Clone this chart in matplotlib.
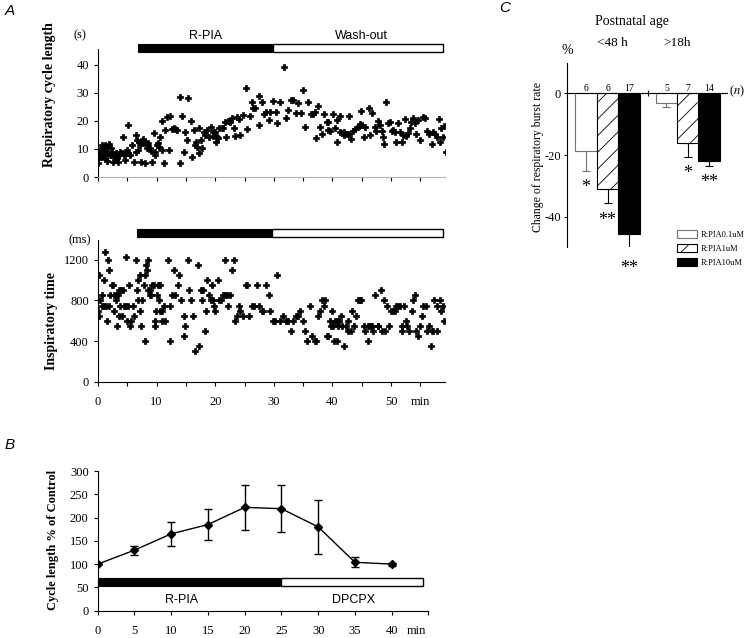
import matplotlib
matplotlib.use('Agg')
import matplotlib.pyplot as plt
from matplotlib.patches import Rectangle

plt.rcParams['font.family'] = 'serif'
plt.rcParams['font.serif'] = ['Liberation Serif', 'DejaVu Serif']
plt.rcParams['font.size'] = 9
plt.rcParams['axes.linewidth'] = 0.8
plt.rcParams['axes.unicode_minus'] = False
plt.rcParams['hatch.linewidth'] = 0.6
plt.rcParams['mathtext.fontset'] = 'stix'
SANS = 'Liberation Sans'

# ---- panel A, respiratory cycle length (s) ----
t_cycle = [0.0, 0.05, 0.2, 0.4, 0.7, 1.0, 1.25, 1.5, 1.8, 0.6,
           1.0, 1.25, 1.7, 2.1, 2.4, 2.5, 2.7, 3.0, 3.2, 3.4,
           3.5, 3.8, 4.1, 4.2, 4.4, 4.7, 4.9, 5.1, 5.2, 5.5,
           5.8, 6.1, 6.4, 6.7, 6.9, 7.2, 7.4, 7.5, 7.8, 8.0,
           8.1, 8.4, 8.6, 8.9, 9.2, 9.5, 9.8, 10.1, 10.4, 10.6,
           10.9, 11.0, 11.2, 11.5, 11.8, 12.2, 12.1, 12.6, 12.9, 13.2,
           13.5, 14.0, 14.0, 14.4, 14.6, 14.9, 15.2, 15.4, 15.8, 16.0,
           16.3, 16.6, 16.7, 16.9, 17.2, 17.3, 17.6, 17.7, 18.0, 18.3,
           18.6, 18.9, 7.0, 7.7, 8.3, 9.0, 9.7, 10.3, 6.5, 3.0,
           1.5, 2.2, 4.6, 0.3, 1.0,
           19.3, 19.6, 19.7, 20.0, 20.1, 20.3, 20.5, 20.7, 21.1, 21.3,
           21.7, 21.9, 22.1, 22.4, 22.6, 22.9, 23.2, 23.4, 23.7, 24.0,
           24.3, 24.7, 25.3, 25.5, 26.0, 26.2, 26.5, 26.8, 27.4, 27.5,
           27.9, 28.3, 28.7, 29.1, 29.4, 29.9, 30.4, 30.6, 31.1, 31.7,
           32.1, 32.5, 32.9, 33.3, 33.8, 34.2, 34.6, 35.0, 35.3, 35.8,
           36.3, 36.6, 37.0, 37.2, 37.6, 37.9, 38.2, 38.6, 39.0, 39.3,
           39.25, 39.5, 40.1, 40.4, 40.8, 40.8, 41.3, 41.3, 41.6, 41.9,
           42.0, 42.4, 42.8, 42.9, 43.2, 43.5, 43.9, 44.3, 44.5, 44.7,
           44.9, 45.1, 45.4, 45.6, 46.2, 46.4, 46.8, 47.2, 47.5, 47.7,
           48.1, 48.4, 48.7, 48.8, 49.2, 49.5, 49.8, 50.1, 50.4, 50.6,
           50.9, 51.2, 51.5, 51.8, 52.0, 52.3, 52.6, 52.9, 53.2, 53.4,
           53.7, 54.0, 54.3, 54.6, 55.0, 55.4, 55.8, 56.2, 56.5, 56.9,
           57.2, 57.5, 57.8, 58.2, 58.4, 58.5, 58.9, 59.1, 59.3]
cycle_len = [4.9, 6.7, 8.5, 9.6, 11.4, 10.8, 11.4, 10.8, 11.7, 7.3,
             7.9, 6.7, 8.5, 7.9, 9.0, 5.5, 7.3, 8.5, 6.7, 5.5,
             7.9, 9.0, 8.5, 14.4, 7.9, 9.0, 9.6, 18.6, 8.5, 7.9,
             11.4, 5.5, 15.0, 13.2, 9.6, 11.4, 5.5, 12.0, 12.6, 5.1,
             12.4, 11.4, 12.0, 10.2, 5.2, 15.6, 9.0, 11.4, 10.8, 14.4,
             9.6, 20.0, 4.9, 16.8, 21.5, 21.9, 9.6, 17.1, 17.4, 17.1,
             16.8, 28.7, 4.9, 21.8, 9.0, 16.0, 13.2, 28.1, 20.0, 7.3,
             16.8, 11.4, 12.4, 10.8, 8.5, 17.6, 13.2, 10.5, 16.0, 15.0,
             16.8, 14.4, 12.5, 13.5, 10.5, 9.2, 8.0, 12.2, 8.8, 6.2,
             5.8, 10.2, 6.0, 7.0, 9.3,
             18.0, 16.2, 14.6, 16.0, 12.4, 14.4, 13.8, 17.6, 17.6, 17.6,
             19.5, 14.4, 20.0, 20.0, 19.8, 21.0, 17.6, 14.8, 21.5, 20.7,
             15.0, 22.1, 31.7, 17.1, 21.9, 26.7, 24.5, 24.5, 29.0, 18.6,
             26.7, 22.4, 23.1, 20.4, 23.1, 27.1, 23.1, 19.2, 26.7, 39.3,
             21.0, 23.9, 27.5, 27.5, 23.0, 26.3, 23.0, 31.1, 18.0, 26.7,
             22.4, 22.4, 23.1, 14.0, 25.5, 18.0, 15.5, 22.4, 19.8, 16.8,
             19.8, 16.4, 22.4, 17.6, 12.4, 20.4, 21.9, 16.2, 15.6, 15.0,
             16.0, 15.2, 15.2, 21.9, 13.5, 16.4, 17.1, 18.0, 18.3, 18.8,
             23.6, 18.6, 14.4, 18.0, 24.5, 15.0, 22.7, 18.0, 16.4, 20.0,
             18.6, 16.4, 14.4, 11.7, 26.9, 19.2, 19.5, 16.4, 16.8, 16.0,
             12.6, 19.2, 16.0, 12.6, 15.0, 20.7, 14.8, 15.6, 17.6, 19.8,
             21.2, 19.2, 15.2, 20.4, 13.2, 21.5, 21.2, 16.4, 15.2, 11.7,
             16.0, 15.2, 14.4, 20.7, 12.4, 17.6, 14.4, 18.3, 8.8]

# ---- panel A, inspiratory time (ms) ----
t_insp = [0.0, 0.1, 0.1, 0.4, 0.6, 0.7, 1.0, 1.1, 1.25, 1.4,
          1.5, 1.7, 1.8, 1.9, 2.1, 2.4, 2.5, 2.7, 2.8, 3.0,
          3.1, 3.2, 3.4, 3.5, 3.6, 3.8, 4.0, 4.1, 4.2, 4.4,
          4.7, 4.8, 4.9, 5.1, 5.3, 5.5, 5.7, 5.9, 6.1, 6.4,
          6.7, 6.8, 6.9, 7.1, 7.2, 7.4, 7.5, 7.8, 8.0, 8.1,
          8.2, 8.4, 8.5, 8.6, 8.8, 8.9, 9.1, 9.2, 9.5, 9.7,
          9.8, 9.9, 10.1, 10.2, 10.4, 10.6, 10.6, 10.9, 11.0, 11.4,
          11.2, 12.0, 12.2, 12.3, 12.6, 12.9, 13.2, 13.6, 13.9, 14.2,
          14.6, 14.6, 14.9, 15.4, 15.6, 15.9, 16.2, 16.6, 17.1, 17.3,
          17.5, 17.7, 17.9, 18.3, 18.4, 18.6, 18.9, 19.2,
          19.4, 19.6, 19.8, 20.0, 20.4, 20.7, 20.9, 21.3, 21.6, 21.7,
          22.0, 22.2, 22.5, 22.8, 23.2, 23.4, 23.7, 24.0, 24.2, 24.7,
          25.2, 25.5, 25.8, 26.2, 26.6, 27.2, 27.5, 27.9, 28.2, 28.7,
          29.1, 29.4, 29.9, 30.2, 30.6, 31.0, 31.6, 32.1, 32.5, 32.9,
          33.3, 33.8, 34.2, 34.5, 35.0, 35.3, 35.7, 36.2, 36.5, 37.0,
          37.2, 37.6, 37.9, 38.2, 38.5, 38.8, 39.0,
          39.25, 39.5, 39.7, 40.0, 40.1, 40.3, 40.4, 40.7, 40.8, 40.9,
          41.2, 41.4, 41.6, 41.9, 42.3, 42.6, 42.7, 43.1, 43.3, 43.7,
          44.1, 44.4, 44.7, 44.9, 45.4, 45.6, 46.0, 46.1, 46.4, 46.7,
          46.9, 47.3, 47.7, 47.8, 48.2, 48.5, 48.8, 49.0, 49.3, 49.6,
          50.0, 50.3, 50.6, 50.8, 51.2, 51.5, 51.8, 51.9, 52.2, 52.5,
          52.8, 53.0, 53.5, 53.8, 54.0, 54.2, 54.6, 54.9, 55.3, 55.5,
          55.9, 56.2, 56.5, 56.8, 56.9, 57.2, 57.4, 57.8, 57.9, 58.3,
          58.6, 58.9, 59.0]
insp_time = [700, 650, 1050, 800, 850, 750, 1000, 750, 1280, 750,
             600, 1200, 1100, 750, 850, 950, 950, 850, 700, 800,
             850, 550, 850, 650, 900, 750, 900, 650, 900, 750,
             750, 1230, 600, 750, 950, 550, 600, 750, 650, 1200,
             900, 800, 1000, 700, 1050, 550, 800, 950, 1050, 400,
             1150, 1100, 1200, 900, 850, 900, 850, 950, 950, 550,
             600, 700, 850, 950, 800, 950, 700, 700, 600, 600,
             750, 1200, 750, 400, 850, 1100, 850, 950, 1050, 800,
             650, 450, 550, 1200, 900, 800, 650, 300, 1150, 350,
             900, 800, 900, 500, 700, 1000, 850, 800,
             950, 800, 750, 700, 1000, 800, 800, 850, 1200, 850,
             850, 750, 850, 1100, 1200, 600, 650, 750, 700, 650,
             950, 950, 650, 750, 750, 950, 750, 700, 700, 950,
             850, 700, 600, 600, 1050, 600, 650, 600, 600, 500,
             600, 650, 650, 700, 600, 500, 400, 750, 450, 400,
             400, 650, 700, 800, 750, 800, 450,
             450, 600, 550, 700, 550, 400, 600, 600, 400, 550,
             600, 650, 550, 350, 550, 500, 600, 500, 700, 550,
             650, 800, 800, 800, 550, 500, 550, 400, 550, 550,
             500, 850, 550, 550, 900, 500, 800, 500, 750, 550,
             700, 700, 700, 750, 750, 750, 550, 500, 750, 600,
             550, 500, 700, 800, 850, 500, 450, 550, 650, 750,
             750, 500, 550, 350, 500, 500, 800, 750, 500, 800,
             700, 750, 600]

# ---- panel B ----
b_time = [0, 5, 10, 15, 20, 25, 30, 35, 40]
b_cycle = [100, 130, 165, 185, 222, 219, 180, 104, 100]
b_err = [0, 10, 25, 33, 48, 50, 58, 11, 3]

# ---- panel C ----
c_labels = ['R:PIA0.1uM', 'R:PIA1uM', 'R:PIA10uM']
c_young = [-18.7, -31.1, -45.7]
c_young_err = [6.5, 4.6, 5.6]
c_old = [-3.0, -16.0, -21.8]
c_old_err = [1.5, 4.5, 1.7]
c_young_n = ['6', '6', '17']
c_old_n = ['5', '7', '14']
c_young_sig = ['*', '**', '**']
c_old_sig = ['', '*', '**']

W, H = 750, 638
fig = plt.figure(figsize=(W / 100, H / 100), dpi=100)


def px_axes(left, top, right, bottom):
    return fig.add_axes([left / W, 1 - bottom / H, (right - left) / W, (bottom - top) / H])


def style(ax):
    ax.spines['top'].set_visible(False)
    ax.spines['right'].set_visible(False)
    ax.tick_params(length=3, width=0.8, labelsize=9)


def drug_bar(ax, y0, h, x0, x1, x2):
    ax.add_patch(Rectangle((x0, y0), x1 - x0, h, fc='black', ec='black', lw=0.8, clip_on=False))
    ax.add_patch(Rectangle((x1, y0), x2 - x1, h, fc='white', ec='black', lw=1.0, clip_on=False))


# A top
ax1 = px_axes(98, 49, 445, 177)
style(ax1)
ax1.plot(t_cycle, cycle_len, 'P', color='black', ms=4.6, mew=0.5)
ax1.set_xlim(0, 59.2)
ax1.set_ylim(0, 45.7)
ax1.set_yticks([0, 10, 20, 30, 40])
ax1.set_xticks(range(0, 60, 5))
ax1.tick_params(axis='x', labelbottom=False)
ax1.spines['bottom'].set_color('0.7')
drug_bar(ax1, 44.6, 2.8, 6.8, 29.9, 58.9)
ax1.text(18.3, 50.4, 'R-PIA', family=SANS, fontsize=9, ha='center', va='center', clip_on=False)
ax1.text(45.0, 50.4, 'Wash-out', family=SANS, fontsize=9, ha='center', va='center', clip_on=False)

# A bottom
ax2 = px_axes(98, 240, 445, 381.7)
style(ax2)
ax2.plot(t_insp, insp_time, 'P', color='black', ms=4.6, mew=0.5)
ax2.set_xlim(0, 59.2)
ax2.set_ylim(0, 1396)
ax2.set_yticks([0, 400, 800, 1200])
ax2.set_xticks(range(0, 60, 5))
ax2.set_xticklabels(['0', '', '10', '', '20', '', '30', '', '40', '', '50', 'min'])
ax2.tick_params(axis='x', pad=7)
drug_bar(ax2, 1425, 80, 6.6, 29.7, 58.9)

fig.text(80 / W, 1 - 35 / H, '(s)', fontsize=9, ha='center', va='center')
fig.text(80 / W, 1 - 240 / H, '(ms)', fontsize=9, ha='center', va='center')
fig.text(50 / W, 1 - 95 / H, 'Respiratory cycle length', fontsize=10, fontweight='bold',
         rotation=90, ha='center', va='center')
fig.text(51 / W, 1 - 321 / H, 'Inspiratory time', fontsize=10, fontweight='bold',
         rotation=90, ha='center', va='center')

# B
ax3 = px_axes(97.7, 471, 427.7, 610.7)
style(ax3)
ax3.errorbar(b_time, b_cycle, yerr=b_err, color='black', lw=1.0, marker='D', ms=4,
             capsize=3, elinewidth=1.0, capthick=1.0)
ax3.set_xlim(0, 44.9)
ax3.set_ylim(0, 300)
ax3.set_yticks(range(0, 301, 50))
ax3.set_xticks(list(range(0, 41, 5)) + [44.9])
ax3.set_xticklabels([str(v) for v in range(0, 41, 5)] + [''])
ax3.tick_params(axis='x', pad=7)
ax3.text(43.3, -0.145, 'min', transform=ax3.get_xaxis_transform(), fontsize=9,
         ha='center', va='center')
drug_bar(ax3, 54, 17, 0, 25, 44.3)
ax3.text(11.4, 23, 'R-PIA', family=SANS, fontsize=9, ha='center', va='center')
ax3.text(34.8, 23, 'DPCPX', family=SANS, fontsize=9, ha='center', va='center')
fig.text(53 / W, 1 - 540 / H, 'Cycle length % of Control', fontsize=9, fontweight='bold',
         rotation=90, ha='center', va='center')

# C
ax4 = px_axes(566.7, 62.7, 726.7, 247.3)
ax4.spines['top'].set_visible(False)
ax4.spines['right'].set_visible(False)
ax4.spines['bottom'].set_position(('data', 0))
ax4.set_xlim(0, 7.44)
ax4.set_ylim(-50, 10)
ax4.set_yticks([0, -20, -40])
ax4.set_xticks([3.77])
ax4.set_xticklabels([''])
ax4.tick_params(axis='y', length=2.5, width=0.8, labelsize=9, pad=1.5)
ax4.tick_params(axis='x', direction='inout', length=4, width=0.8)

x_young = [0.89, 1.9, 2.89]
x_old = [4.64, 5.63, 6.61]
faces = ['white', 'white', 'black']
hatches = [None, '//', None]
edges = ['0.45', 'black', 'black']
for i in range(3):
    xs = [x_young[i], x_old[i]]
    ys = [c_young[i], c_old[i]]
    es = [c_young_err[i], c_old_err[i]]
    ax4.bar(xs, ys, width=1.0, color=faces[i], hatch=hatches[i], edgecolor=edges[i],
            lw=0.8, label=c_labels[i], zorder=2)
    ax4.errorbar(xs, ys, yerr=[es, [0, 0]], fmt='none', ecolor=edges[i] if i == 0 else 'black',
                 elinewidth=0.8, capsize=3, capthick=0.8, zorder=1)
    for x, n in zip(xs, [c_young_n[i], c_old_n[i]]):
        ax4.text(x, 1.7, n, fontsize=7, ha='center', va='center')
    for x, y, e, s in zip(xs, ys, es, [c_young_sig[i], c_old_sig[i]]):
        if s:
            ax4.text(x, y - e - 5.5, s, fontsize=13, ha='center', va='center', clip_on=False)
ax4.text(7.93, 0.8, '($n$)', fontsize=9, ha='center', va='center', clip_on=False)
ax4.legend(loc='upper left', bbox_to_anchor=(672.7 / W, 1 - 226 / H),
           bbox_transform=fig.transFigure, frameon=False, fontsize=6, borderpad=0,
           handlelength=2.4, handleheight=1.0, labelspacing=0.65, handletextpad=0.5)

fig.text(538 / W, 1 - 157 / H, 'Change of respiratory burst rate', fontsize=8.5,
         rotation=90, ha='center', va='center')
fig.text(567 / W, 1 - 50 / H, '%', fontsize=10, ha='center', va='center')
fig.text(631.7 / W, 1 - 21.7 / H, 'Postnatal age', fontsize=10, ha='center', va='center')
fig.text(612.7 / W, 1 - 43.3 / H, '<48 h', fontsize=9.5, ha='center', va='center')
fig.text(676.7 / W, 1 - 43.3 / H, '>18h', fontsize=9.5, ha='center', va='center')

# panel letters
for lbl, x, y in [('A', 10, 11), ('B', 10, 445), ('C', 505, 8)]:
    fig.text(x / W, 1 - y / H, lbl, family=SANS, style='italic', fontsize=11,
             ha='center', va='center')

fig.savefig('out.png', dpi=100)
